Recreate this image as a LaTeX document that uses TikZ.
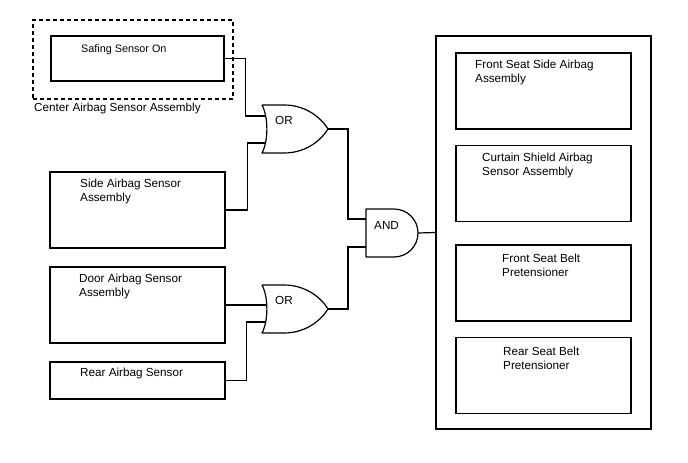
\documentclass[tikz,border=0pt]{standalone}
\usepackage{fontspec}
\setmainfont{Liberation Sans}
\tikzstyle{box}=[draw,line width=1.2pt,minimum width=175pt,minimum height=76pt,inner sep=0pt]
\tikzstyle{frame}=[draw,line width=1.2pt,inner sep=0pt]
\tikzstyle{caption}=[anchor=base west,align=left,inner sep=0pt,font=\fontsize{11.7}{14}\selectfont]
\tikzstyle{gate}=[draw,line width=1.2pt,line join=round]
\tikzstyle{wire}=[draw,line width=1.2pt]

\begin{document}
\begin{tikzpicture}[x=1pt,y=-1pt]
    \useasboundingbox (0,0) rectangle (688,463);
    % Sensors on the left
    \node[frame,dashed,dash pattern=on 4pt off 3pt,minimum width=200pt,minimum height=79pt] (centre) at (133,59.5) {};
    \node[box,minimum width=173pt,minimum height=45pt] (safing) at (137.5,58.5) {};
    \foreach \pos/\name/\h in {{(137.5,210)/side/76}, {(137.5,305)/door/76}, {(137.5,380.5)/rear/37}}
        \node[box,minimum height=\h pt] (\name) at \pos {};

    % Airbags and pretensioners on the right
    \node[frame,minimum width=215pt,minimum height=393pt] (airbags) at (543.5,232.5) {};
    \foreach \pos/\name in {{(543.5,91)/frontside}, {(543.5,183.5)/curtain}, {(543.5,283)/frontbelt}, {(543.5,375.5)/rearbelt}}
        \node[box] (\name) at \pos {};

    % Texts (base of the last line)
    \node[caption] (centre-label) at (34,111) {Center Airbag Sensor Assembly};
    \node[caption,font=\fontsize{10.8}{13}\selectfont] (safing-label) at (81,52) {Safing Sensor On};
    \foreach \pos/\name/\lines in {{(80,201)/side/Side Airbag Sensor\\Assembly}, {(79,296)/door/Door Airbag Sensor\\Assembly}, {(80,376)/rear/Rear Airbag Sensor},
            {(475,82.5)/frontside/Front Seat Side Airbag\\Assembly}, {(482,175)/curtain/Curtain Shield Airbag\\Sensor Assembly},
            {(502,276)/frontbelt/Front Seat Belt\\Pretensioner}, {(503,369)/rearbelt/Rear Seat Belt\\Pretensioner}}
        \node[caption] (\name-label) at \pos {\lines};

    % OR gates, from their top left corner
    \foreach \gx/\gy/\name/\a/\b in {262/105/or1/11/38, 262/285/or2/20/37} {
        \begin{scope}[shift={(\gx,\gy)}]
            \draw[gate] (0,0) -- (22,0) .. controls (45,0) and (60,14) .. (66,24)
                .. controls (60,34) and (45,48) .. (22,48) -- (0,48)
                .. controls (6.5,36) and (6.5,12) .. (0,0);
            \coordinate (\name-in1) at (4,\a);
            \coordinate (\name-in2) at (4,\b);
            \coordinate (\name-out) at (66,24);
            \node[caption] (\name-label) at (13,19.5) {OR};
        \end{scope}
    }

    % AND gate
    \begin{scope}[shift={(366,209)}]
        \draw[gate] (0,0) -- (28,0) arc[start angle=90,end angle=-90,radius=24pt] -- (0,48) -- cycle;
        \coordinate (and-in1) at (0,10);
        \coordinate (and-in2) at (0,38);
        \coordinate (and-out) at (52,24);
        \node[caption] (and-label) at (8,20) {AND};
    \end{scope}

    % Wires
    \path[wire] (safing.east) -- ++(21,0) |- (or1-in1);
    \path[wire] (side.east) -- ++(22,0) |- (or1-in2);
    \path[wire] (door.east) -- (or2-in1);
    \path[wire] (rear.east) -- ++(21,0) |- (or2-in2);
    \path[wire] (or1-out) -- ++(20,0) |- (and-in1);
    \path[wire] (or2-out) -- ++(20,0) |- (and-in2);
    \path[wire] (and-out) -- (airbags.west);
\end{tikzpicture}
\end{document}
